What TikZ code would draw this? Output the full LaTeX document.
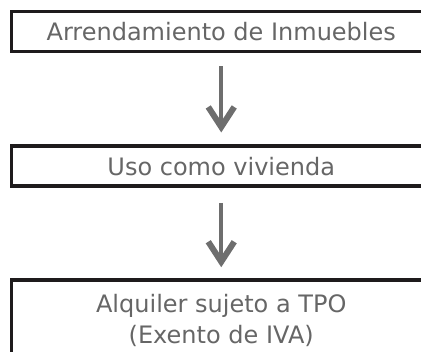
\documentclass[tikz,border=0pt]{standalone}
\usepackage{fontspec}
\setmainfont{DejaVu Sans}
\usetikzlibrary{arrows.meta}
\definecolor{txt}{HTML}{666666}
\definecolor{frame}{HTML}{1E1B1C}
\definecolor{arr}{HTML}{6E6E6E}
\tikzset{
  box/.style={draw=frame, line width=3.5pt, minimum width=419.5pt, minimum height=40pt,
    inner sep=0pt, text=txt, font=\fontsize{24pt}{31pt}\selectfont, align=center},
  flow/.style={draw=arr, line width=4pt,
    -{Straight Barb[length=20pt, width=26pt, line width=6pt]}}
}
\begin{document}
\begin{tikzpicture}[x=1pt,y=-1pt]
\useasboundingbox (0,0) rectangle (421,352);
\node[box] (a) at (221.25,31.5) {Arrendamiento de Inmuebles};
\node[box] (b) at (221.25,166.2) {Uso como vivienda};
\node[box, minimum height=80pt] (c) at (221.25,320) {Alquiler sujeto a TPO\\(Exento de IVA)};
\draw[flow] ([yshift=-13pt]a.south) -- ([yshift=12pt]b.north);
\draw[flow] ([yshift=-15pt]b.south) -- ([yshift=11pt]c.north);
\end{tikzpicture}
\end{document}
